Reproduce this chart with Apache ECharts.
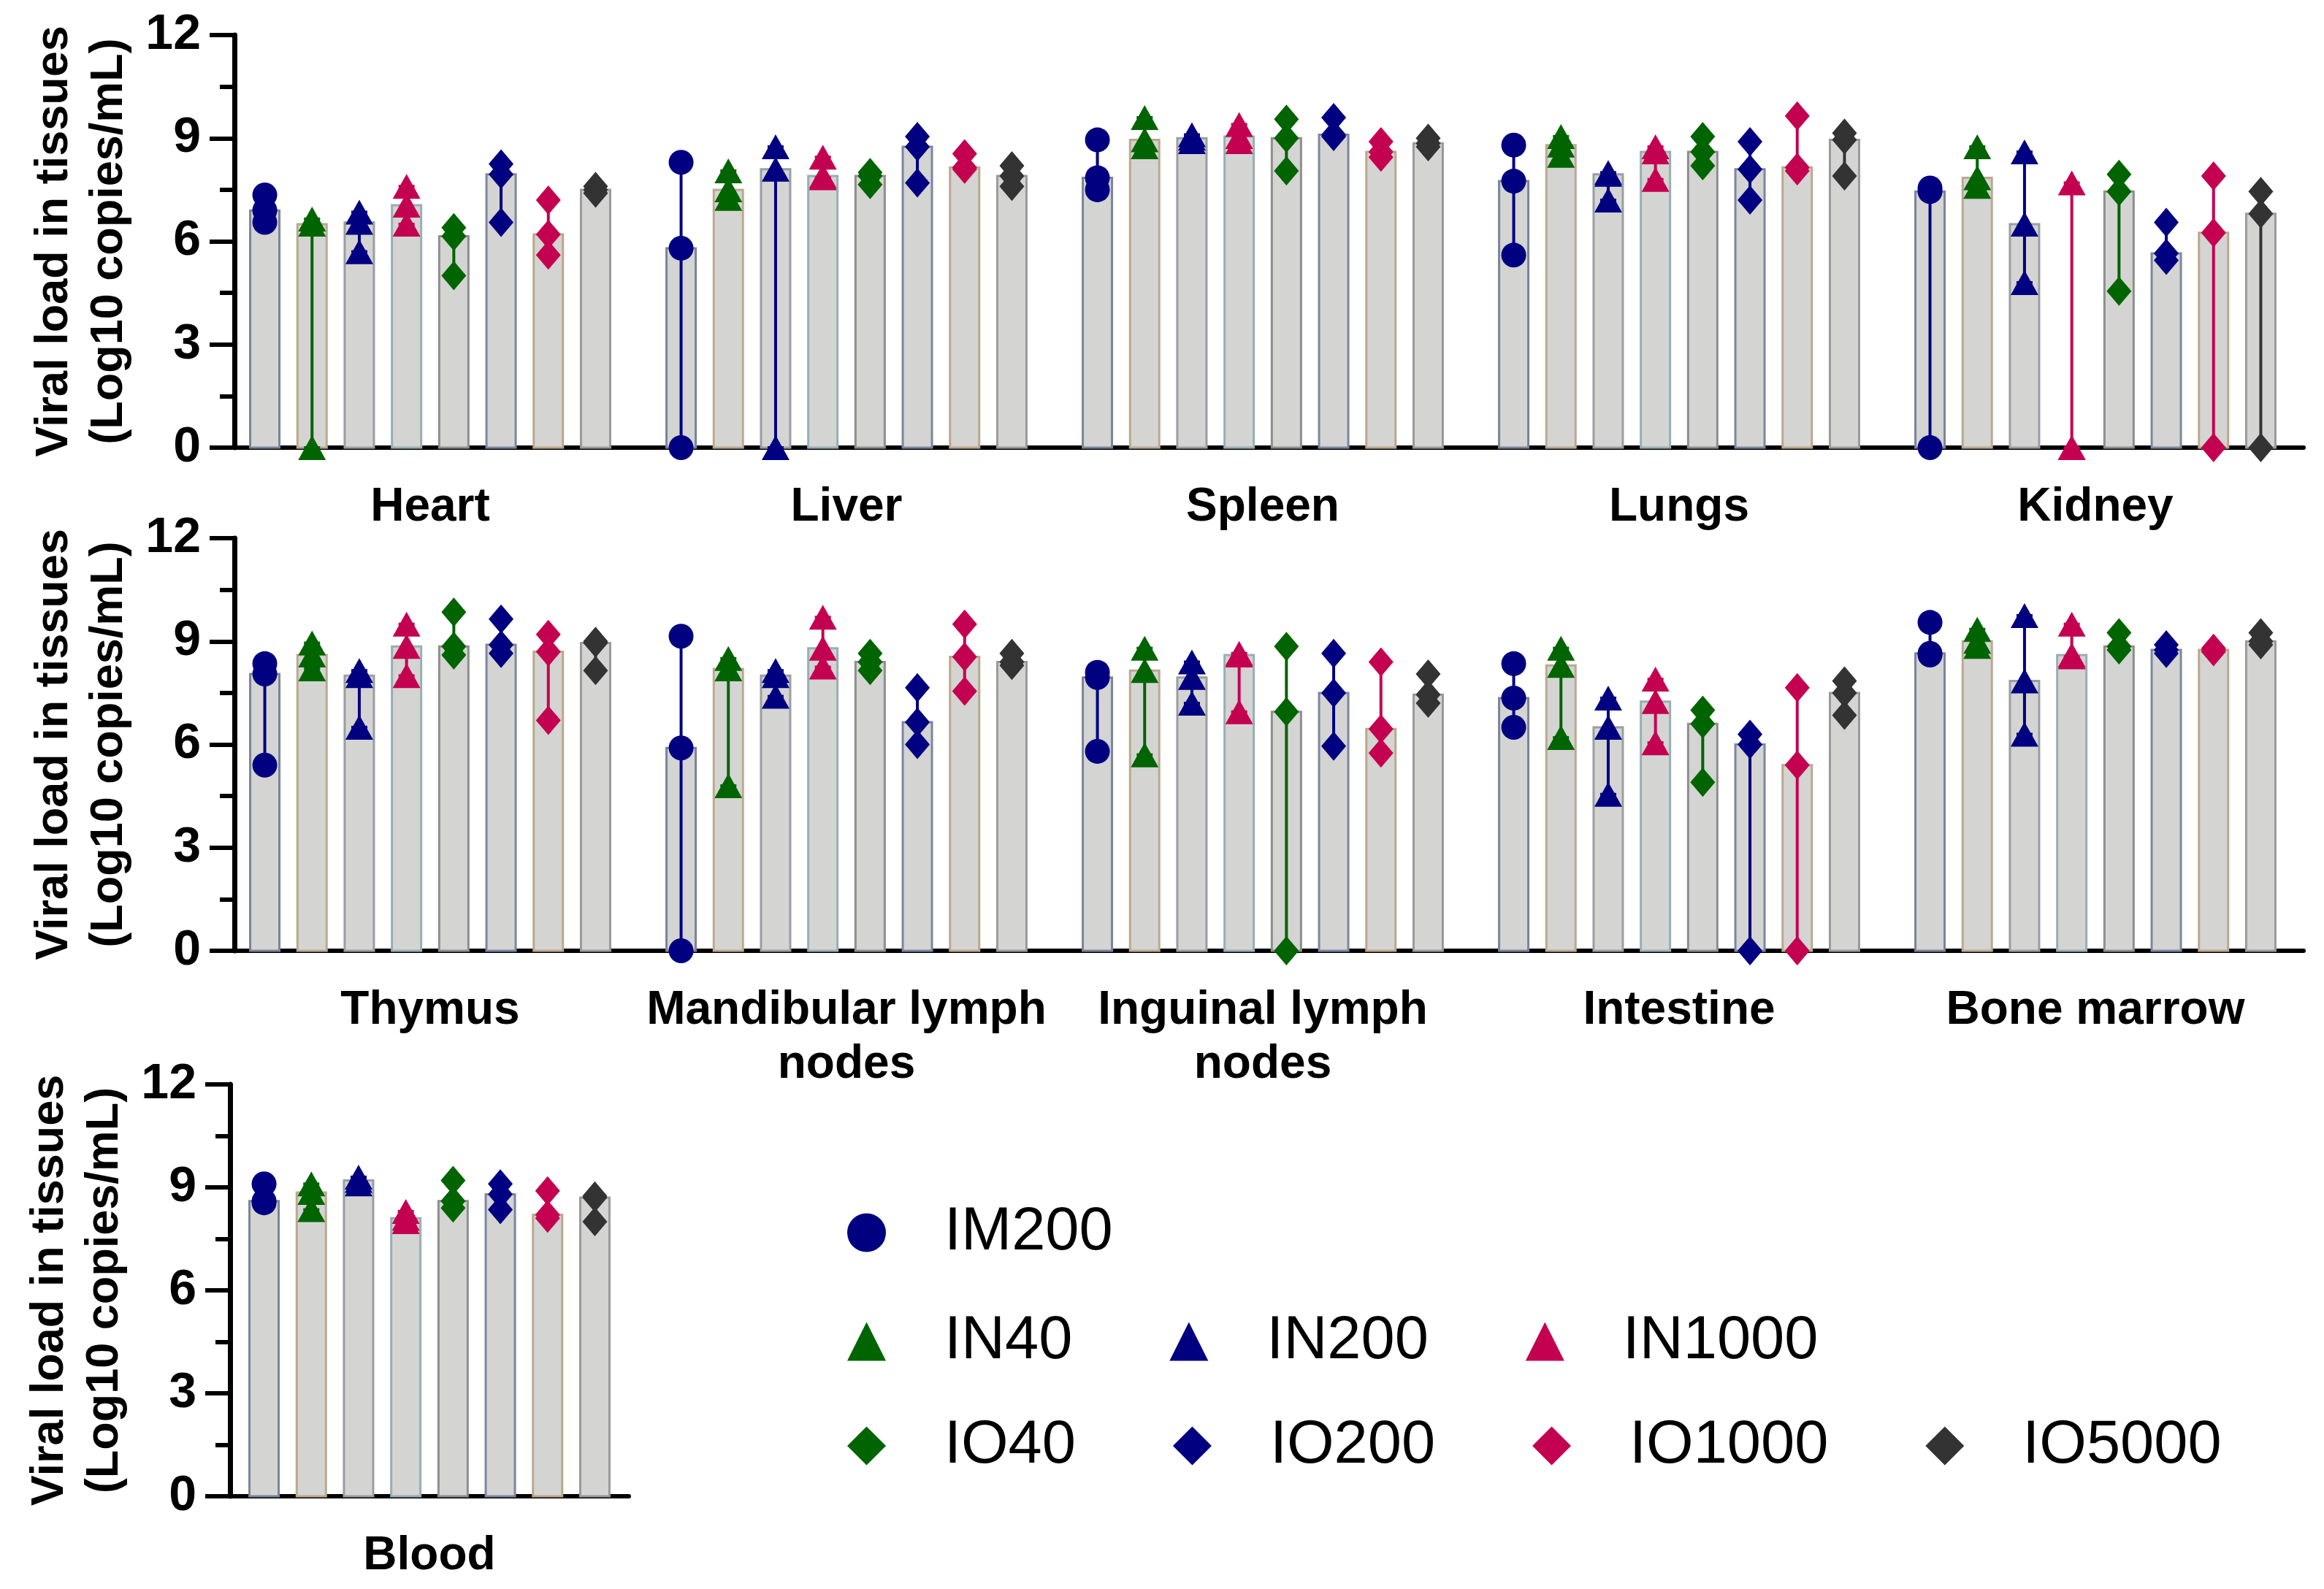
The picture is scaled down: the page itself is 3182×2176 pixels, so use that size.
<!DOCTYPE html>
<html>
<head>
<meta charset="utf-8">
<script src="https://cdn.jsdelivr.net/npm/echarts@6/dist/echarts.min.js"></script>
<style>
html,body{margin:0;padding:0;background:#fff;}
#chart{width:3182px;height:2176px;}
</style>
</head>
<body>
<div id="chart"></div>
<script>
// ---------------- data ----------------
const tissues = ['Heart', 'Liver', 'Spleen', 'Lungs', 'Kidney',
  'Thymus', 'Mandibular lymph\nnodes', 'Inguinal lymph\nnodes', 'Intestine', 'Bone marrow',
  'Blood'];
const rows = [[0, 1, 2, 3, 4], [5, 6, 7, 8, 9], [10]];
const treatments = ['IM200', 'IN40', 'IN200', 'IN1000', 'IO40', 'IO200', 'IO1000', 'IO5000'];
const yTicks = [0, 3, 6, 9, 12];

// values per tissue (same order as tissues), 3 animals each, log10 copies/mL
const IM200 = [[7.35, 6.9, 6.55], [8.3, 5.8, 0], [8.95, 7.85, 7.5], [8.8, 7.75, 5.6], [7.55, 7.45, 0],
  [8.35, 8.05, 5.4], [9.15, 5.9, 0], [8.1, 7.95, 5.8], [8.35, 7.35, 6.5], [9.55, 8.65, 8.6], [9.1, 8.6, 8.55]];
const IN40 = [[6.65, 6.5, 0], [8.05, 7.5, 7.25], [9.6, 8.95, 8.75], [9.05, 8.8, 8.5], [8.75, 7.85, 7.6],
  [8.95, 8.6, 8.2], [8.5, 8.2, 4.8], [8.8, 8.15, 5.7], [8.8, 8.3, 6.2], [9.35, 9.0, 8.85], [9.1, 8.85, 8.35]];
const IN200 = [[6.85, 6.55, 5.7], [8.75, 8.1, 0], [9.1, 9.0, 8.9], [8.0, 7.95, 7.2], [8.6, 6.5, 4.8],
  [8.15, 8.0, 6.5], [8.15, 8.0, 7.4], [8.4, 7.95, 7.2], [7.35, 6.5, 4.55], [9.75, 7.85, 6.3], [9.3, 9.2, 9.1]];
const IN1000 = [[7.6, 7.05, 6.5], [8.45, 7.9, 7.85], [9.4, 9.05, 8.9], [8.75, 8.6, 7.8], [7.7, 0, 0],
  [9.5, 8.85, 8.0], [9.7, 8.8, 8.25], [8.65, 8.6, 6.95], [7.9, 7.25, 6.05], [9.5, 8.6, 8.55], [8.3, 8.1, 8.0]];
const IO40 = [[6.4, 6.15, 5.0], [8.0, 7.9, 7.65], [9.55, 9.0, 8.05], [9.05, 8.6, 8.2], [7.95, 7.45, 4.55],
  [9.85, 8.85, 8.6], [8.65, 8.4, 8.15], [8.85, 6.95, 0], [7.0, 6.6, 4.9], [9.25, 8.85, 8.75], [9.2, 8.6, 8.4]];
const IO200 = [[8.25, 7.95, 6.55], [9.05, 8.75, 7.7], [9.6, 9.1, 9.05], [8.9, 8.1, 7.2], [6.55, 5.65, 5.45],
  [9.65, 8.9, 8.65], [7.65, 6.65, 6.0], [8.65, 7.5, 5.95], [6.3, 6.0, 0], [8.9, 8.75, 8.65], [9.1, 8.8, 8.35]];
const IO1000 = [[7.2, 6.2, 5.6], [8.55, 8.15, 8.1], [8.9, 8.6, 8.45], [9.65, 8.15, 8.05], [7.9, 6.25, 0],
  [9.2, 8.7, 6.7], [9.5, 8.55, 7.55], [8.4, 6.45, 5.75], [7.65, 5.4, 0], [8.8, 8.75, 8.7], [8.9, 8.2, 8.1]];
const IO5000 = [[7.6, 7.5, 7.4], [8.2, 7.9, 7.6], [9.0, 8.85, 8.75], [9.15, 8.95, 7.9], [7.45, 6.8, 0],
  [9.0, 8.95, 8.15], [8.65, 8.4, 8.3], [8.05, 7.45, 7.2], [7.85, 7.5, 6.85], [9.25, 9.0, 8.9], [8.75, 8.7, 8.0]];
const values = [IM200, IN40, IN200, IN1000, IO40, IO200, IO1000, IO5000];

// ---------------- styles ----------------
const NAVY = '#000080', GREEN = '#006400', CRIMSON = '#c40050', DARK = '#333333';
const colors = [NAVY, GREEN, NAVY, CRIMSON, GREEN, NAVY, CRIMSON, DARK];
const shapes = ['circle', 'triangle', 'triangle', 'triangle', 'diamond', 'diamond', 'diamond', 'diamond'];
const borders = ['#7a849a', '#bba98f', '#9a9ea3', '#98aeb5', '#8e8e8e', '#7c86a0', '#bca78c', '#9a9a9a'];
const BAR_FILL = '#d4d4d2';
const PITCH = 64.7, BW = 40, CAP = 22;
const FONT = '"Liberation Sans", Arial, Helvetica, sans-serif';

function median(a) {
  const s = a.slice().sort((x, y) => x - y);
  return s[Math.floor(s.length / 2)];
}

function marker(shape, x, y, color) {
  if (shape === 'circle') {
    return { type: 'circle', shape: { cx: x, cy: y, r: 17 }, style: { fill: color } };
  }
  if (shape === 'triangle') {
    const w = 38, h = 34;
    return { type: 'polygon', shape: { points: [[x, y - h / 2], [x + w / 2, y + h / 2], [x - w / 2, y + h / 2]] }, style: { fill: color } };
  }
  const w = 34, h = 40;
  return { type: 'polygon', shape: { points: [[x, y - h / 2], [x + w / 2, y], [x, y + h / 2], [x - w / 2, y]] }, style: { fill: color } };
}

function makeRender(k) {
  return function (params, api) {
    const cat = api.value(0);
    const vals = [api.value(1), api.value(2), api.value(3)];
    const base = api.coord([cat, 0]);
    const cx = base[0] + (k - 3.5) * PITCH;
    const med = median(vals);
    const yMed = api.coord([cat, med])[1];
    const yMax = api.coord([cat, Math.max.apply(null, vals)])[1];
    const yMin = api.coord([cat, Math.min.apply(null, vals)])[1];
    const col = colors[k];
    const children = [];
    if (base[1] - yMed > 1) {
      children.push({ type: 'rect', shape: { x: cx - BW / 2, y: yMed, width: BW, height: base[1] - yMed },
        style: { fill: BAR_FILL, stroke: borders[k], lineWidth: 3 } });
    }
    children.push({ type: 'line', shape: { x1: cx, y1: yMax, x2: cx, y2: yMin }, style: { stroke: col, lineWidth: 4 } });
    children.push({ type: 'line', shape: { x1: cx - CAP / 2, y1: yMax, x2: cx + CAP / 2, y2: yMax }, style: { stroke: col, lineWidth: 4 } });
    children.push({ type: 'line', shape: { x1: cx - CAP / 2, y1: yMin, x2: cx + CAP / 2, y2: yMin }, style: { stroke: col, lineWidth: 4 } });
    vals.forEach(v => {
      const p = api.coord([cat, v]);
      children.push(marker(shapes[k], cx, p[1], col));
    });
    return { type: 'group', children: children };
  };
}

// ---------------- layout ----------------
const grids = [
  { left: 304, top: 48, width: 2850, height: 565 },
  { left: 304, top: 737, width: 2850, height: 565 },
  { left: 315, top: 1485, width: 546, height: 564 }
];
const yOffsets = [-17, -17, 0];

const xAxes = rows.map((r, gi) => ({
  type: 'category', gridIndex: gi,
  data: r.map(i => tissues[i]),
  axisLine: { lineStyle: { color: '#000', width: 6 } },
  axisTick: { alignWithLabel: true, length: 32, lineStyle: { color: '#000', width: 6 } },
  axisLabel: { interval: 0, color: '#000', fontSize: 64, fontWeight: 'bold', fontFamily: FONT, lineHeight: 74, margin: 45 },
  splitLine: { show: false }
}));

const yAxes = rows.map((r, gi) => ({
  type: 'value', gridIndex: gi, min: yTicks[0], max: yTicks[yTicks.length - 1], interval: yTicks[1] - yTicks[0],
  offset: yOffsets[gi],
  name: 'Viral load in tissues\n(Log10 copies/mL)',
  nameLocation: 'middle', nameGap: 134, nameRotate: 90,
  nameTextStyle: { color: '#000', fontSize: 63, fontWeight: 'bold', fontFamily: FONT, lineHeight: 75 },
  axisLine: { show: true, lineStyle: { color: '#000', width: 7 } },
  axisTick: { show: true, length: 34, lineStyle: { color: '#000', width: 6 } },
  minorTick: { show: true, splitNumber: 2, length: 20, lineStyle: { color: '#000', width: 6 } },
  axisLabel: { color: '#000', fontSize: 68, fontWeight: 'bold', fontFamily: FONT, margin: 46 },
  splitLine: { show: false }
}));

const series = [];
rows.forEach((r, gi) => {
  treatments.forEach((t, k) => {
    series.push({
      type: 'custom', name: t, xAxisIndex: gi, yAxisIndex: gi,
      clip: false,
      itemStyle: { color: colors[k] },
      encode: { x: 0, y: [1, 2, 3] },
      renderItem: makeRender(k),
      data: r.map((ti, li) => [li].concat(values[k][ti]))
    });
  });
});

function legendItems(names) {
  return names.map(n => {
    const k = treatments.indexOf(n);
    return { name: n, icon: shapes[k], itemStyle: { color: colors[k] } };
  });
}
const legendBase = {
  orient: 'horizontal', left: 1160, padding: 0, itemWidth: 53, itemHeight: 53, itemGap: 133,
  selectedMode: false,
  textStyle: { color: '#000', fontSize: 83, fontFamily: FONT, lineHeight: 90, padding: [0, 0, 0, 75] }
};
const legends = [
  Object.assign({}, legendBase, { top: 1688 - 45, data: legendItems(['IM200']) }),
  Object.assign({}, legendBase, { top: 1837 - 45, data: legendItems(['IN40', 'IN200', 'IN1000']) }),
  Object.assign({}, legendBase, { top: 1980 - 45, data: legendItems(['IO40', 'IO200', 'IO1000', 'IO5000']) })
];

const chart = echarts.init(document.getElementById('chart'), null, { renderer: 'canvas' });
chart.setOption({
  backgroundColor: '#fff',
  animation: false,
  textStyle: { fontFamily: FONT },
  grid: grids,
  xAxis: xAxes,
  yAxis: yAxes,
  legend: legends,
  series: series
});
</script>
</body>
</html>
